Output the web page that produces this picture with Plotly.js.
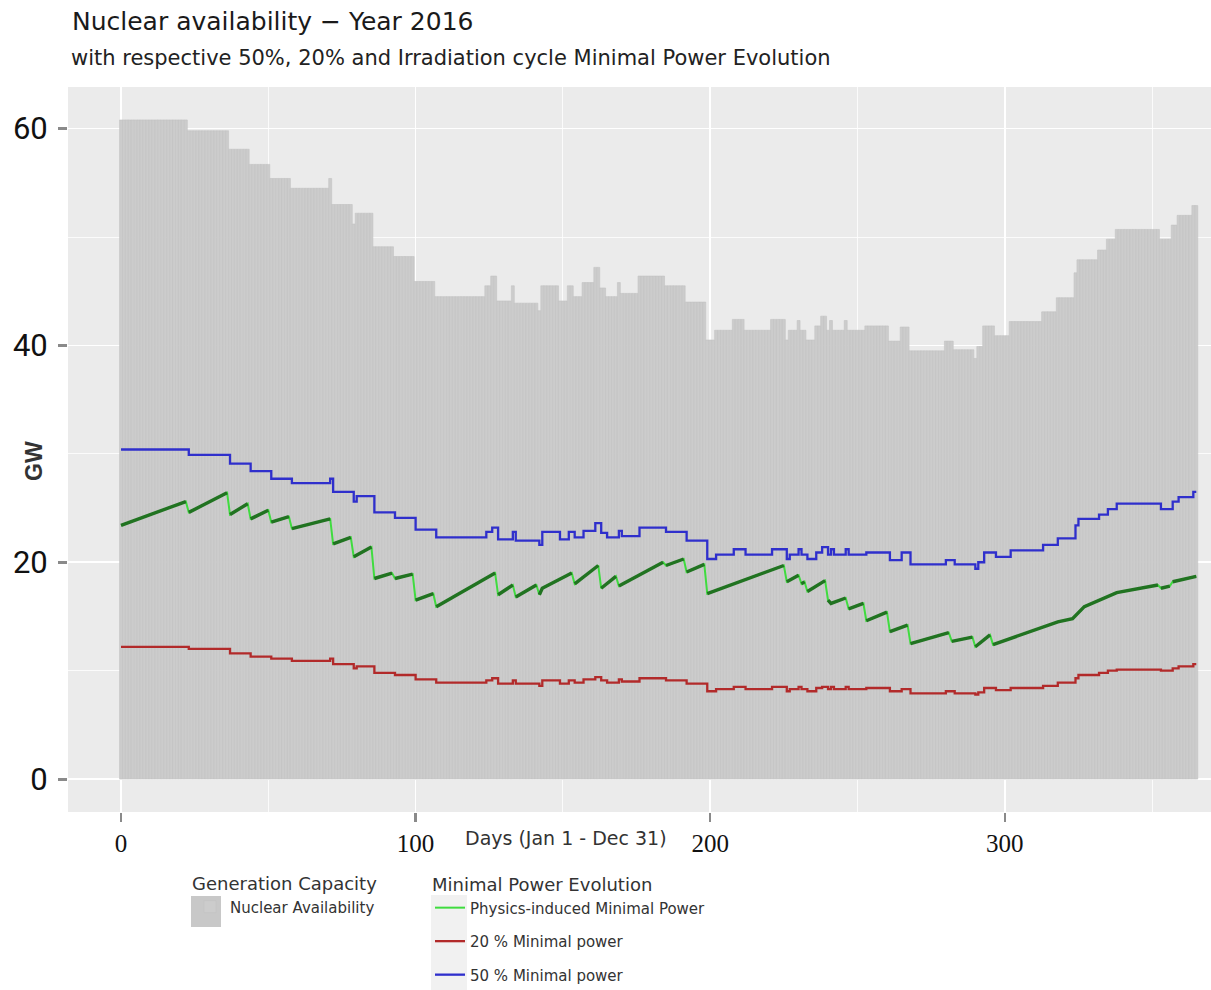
<!DOCTYPE html>
<html>
<head>
<meta charset="utf-8">
<script src="https://cdn.plot.ly/plotly-3.0.1.min.js"></script>
<style>html,body{margin:0;padding:0;background:#fff;}#chart{width:1211px;height:990px;}</style>
</head>
<body>
<div id="chart"></div>
<script>
// ---- Data ----
// Nuclear availability (GW): day on which each constant level starts, and its level
const stepDays = [0,23,37,44,51,58,71,72,79,80,
  86,93,100,107,124,126,128,133,134,142,
  143,149,152,154,157,161,163,165,169,170,
  176,185,192,199,202,208,212,221,226,227,
  230,231,233,236,238,240,241,242,246,247,
  253,261,265,268,280,283,290,291,293,297,
  302,313,318,324,325,332,335,338,353,357,
  359,364,365];
const availGW = [60.8,59.8,58.1,56.7,55.4,54.5,55.4,53.0,51.2,52.2,
  49.1,48.2,45.9,44.5,45.5,46.4,44.1,45.5,43.9,43.2,
  45.5,44.1,45.5,44.5,45.8,47.2,45.3,44.5,45.8,44.8,
  46.4,45.5,44.0,40.5,41.4,42.4,41.4,42.4,40.5,41.4,
  42.3,41.4,40.5,41.8,42.7,41.4,42.3,41.4,42.3,41.4,
  41.8,40.4,41.7,39.5,40.4,39.6,38.8,39.9,41.8,40.9,
  42.2,43.1,44.4,46.7,47.9,48.8,49.8,50.7,49.8,51.1,
  52.0,52.9,52.9];
// 50 % minimal power (GW), same change days
const blueGW = [30.4,29.9,29.1,28.4,27.7,27.3,27.7,26.5,25.6,26.1,
  24.6,24.1,23.0,22.3,22.8,23.2,22.1,22.8,22.0,21.6,
  22.8,22.1,22.8,22.3,22.9,23.6,22.7,22.3,22.9,22.4,
  23.2,22.8,22.0,20.3,20.7,21.2,20.7,21.2,20.3,20.7,
  21.2,20.7,20.3,20.9,21.4,20.7,21.2,20.7,21.2,20.7,
  20.9,20.2,20.9,19.8,20.2,19.8,19.4,20.0,20.9,20.5,
  21.1,21.6,22.2,23.4,24.0,24.4,24.9,25.4,24.9,25.6,
  26.0,26.5,26.5];
// 20 % minimal power (GW), same change days
const redGW = [12.2,12.0,11.6,11.3,11.1,10.9,11.1,10.6,10.2,10.4,
  9.8,9.6,9.2,8.9,9.1,9.3,8.8,9.1,8.8,8.6,
  9.1,8.8,9.1,8.9,9.2,9.4,9.1,8.9,9.2,9.0,
  9.3,9.1,8.8,8.1,8.3,8.5,8.3,8.5,8.1,8.3,
  8.5,8.3,8.1,8.4,8.5,8.3,8.5,8.3,8.5,8.3,
  8.4,8.1,8.3,7.9,8.1,7.9,7.8,8.0,8.4,8.2,
  8.4,8.6,8.9,9.3,9.6,9.8,10.0,10.1,10.0,10.2,
  10.4,10.6,10.6];
// Physics-induced minimal power: irradiation-cycle ramps (null = break between ramps)
const greenDay = [0,22,null, 23,36,null, 37,43,null, 44,50,null, 51,57,null, 58,71,null,
  72,78,null, 79,85,null, 86,92,null, 93,99,null, 100,106,null, 107,127,null,
  128,133,null, 134,141,null, 142,143,153,null, 154,162,null, 163,168,null,
  169,184,null, 185,191,null, 192,198,null, 199,225,null, 226,230,null, 231,232,null,
  233,239,null, 240,241,246,null, 247,252,null, 253,260,null, 261,267,null,
  268,281,null, 282,289,null, 290,295,null, 296,318,323,327,338,352,null,
  353,356,null, 357,365];
const greenGW = [23.4,25.6,null, 24.6,26.4,null, 24.4,25.4,null, 24.0,24.8,null, 23.7,24.2,null, 23.1,24.0,null,
  21.7,22.3,null, 20.5,21.4,null, 18.5,19.0,null, 18.5,18.9,null, 16.5,17.1,null, 15.9,19.0,null,
  17.0,17.9,null, 16.8,17.9,null, 17.0,17.6,19.0,null, 18.0,19.7,null, 17.6,18.7,null,
  17.8,20.0,null, 19.7,20.3,null, 19.1,19.8,null, 17.1,19.7,null, 18.2,18.8,null, 18.0,18.2,null,
  17.3,18.3,null, 16.5,16.2,16.7,null, 15.7,16.2,null, 14.6,15.4,null, 13.6,14.2,null,
  12.5,13.5,null, 12.7,13.1,null, 12.2,13.3,null, 12.4,14.5,14.8,15.9,17.2,17.9,null,
  17.6,17.8,null, 18.2,18.7];
const xTicks = [0,100,200,300];
const yTicks = [0,20,40,60];

// one bar per day of the year, at the level in force that day
const days = [], dayGW = [];
for (let d = 0; d <= 365; d++) {
  let k = 0;
  for (let i = 0; i < stepDays.length; i++) if (stepDays[i] <= d) k = i;
  days.push(d); dayGW.push(availGW[k]);
}

const W = 1211, H = 990, L = 68, R = 1211, T = 87, B = 812;
const px = v => (v - L) / (R - L);
const py = v => (B - v) / (B - T);

const traces = [
  {type:'bar', x:days, y:dayGW, name:'Nuclear Availability', legend:'legend',
   marker:{color:'#cccccc', line:{color:'#c2c2c2', width:0.6}}, hoverinfo:'skip'},
  {type:'scatter', mode:'lines', x:greenDay, y:greenGW, connectgaps:true,
   name:'Physics-induced Minimal Power', legend:'legend2', legendgroup:'g1',
   line:{color:'#3fdc3f', width:2}},
  {type:'scatter', mode:'lines', x:greenDay, y:greenGW, connectgaps:false,
   showlegend:false, legendgroup:'g1', line:{color:'#217321', width:3.4}},
  {type:'scatter', mode:'lines', x:stepDays, y:redGW, name:'20 % Minimal power',
   legend:'legend2', legendgroup:'g2', line:{color:'#b22a2a', width:2.3, shape:'hv'}},
  {type:'scatter', mode:'lines', x:stepDays, y:blueGW, name:'50 % Minimal power',
   legend:'legend2', legendgroup:'g3', line:{color:'#2f2fcc', width:2.3, shape:'hv'}}
];

const legendFont = {family:'DejaVu Sans', size:15, color:'#333'};
const legendTitleFont = {family:'DejaVu Sans', size:18, color:'#333'};

const layout = {
  width:W, height:H,
  margin:{l:L, r:W-R, t:T, b:H-B, pad:0, autoexpand:false},
  paper_bgcolor:'#ffffff', plot_bgcolor:'#ebebeb',
  bargap:0,
  title:{text:'Nuclear availability − Year 2016',
    font:{family:'DejaVu Sans', size:25, color:'#1a1a1a'},
    x:72/W, xanchor:'left', xref:'container', y:1-21/H, yanchor:'middle', yref:'container'},
  xaxis:{range:[-18,370], tickvals:xTicks, ticktext:xTicks.map(String), automargin:false,
    showgrid:true, gridcolor:'#ffffff', gridwidth:1.6,
    minor:{tickvals:[50,150,250,350], showgrid:true, gridcolor:'#ffffff', gridwidth:0.8},
    zeroline:false, showline:false, ticks:'outside', ticklen:9, tickwidth:2.5, tickcolor:'#8a8a8a',
    tickfont:{family:'Liberation Serif', size:25, color:'#111'}},
  yaxis:{range:[-3.04,63.84], tickvals:yTicks, ticktext:yTicks.map(String), automargin:false,
    showgrid:true, gridcolor:'#ffffff', gridwidth:1.6,
    minor:{tickvals:[10,30,50], showgrid:true, gridcolor:'#ffffff', gridwidth:0.8},
    zeroline:false, showline:false, ticks:'outside', ticklen:9, tickwidth:3, tickcolor:'#8a8a8a',
    ticklabelstandoff:4,
    tickfont:{family:'Liberation Sans Narrow, Roboto', size:31, color:'#111'}},
  showlegend:true,
  legend:{x:190/W, xref:'container', xanchor:'left', y:1-867/H, yref:'container', yanchor:'top',
    bgcolor:'rgba(0,0,0,0)', font:legendFont,
    title:{text:'Generation Capacity', font:legendTitleFont, side:'top'}},
  legend2:{x:430/W, xref:'container', xanchor:'left', y:1-868/H, yref:'container', yanchor:'top',
    bgcolor:'rgba(0,0,0,0)', font:legendFont, traceorder:'grouped', tracegroupgap:11,
    title:{text:'Minimal Power Evolution', font:legendTitleFont, side:'top'}},
  shapes:[
    {type:'rect', xref:'paper', yref:'paper', x0:px(191), x1:px(221), y0:py(927), y1:py(896),
     fillcolor:'#c8c8c8', line:{width:0}, layer:'below'},
    {type:'rect', xref:'paper', yref:'paper', x0:px(431), x1:px(467), y0:py(993), y1:py(895),
     fillcolor:'#f1f1f1', line:{width:0}, layer:'below'}
  ],
  annotations:[
    {text:'with respective 50%, 20% and Irradiation cycle Minimal Power Evolution',
     xref:'paper', yref:'paper', x:px(69), y:py(58), xanchor:'left', yanchor:'middle', showarrow:false,
     font:{family:'DejaVu Sans', size:21, color:'#222'}},
    {text:'Days (Jan 1 - Dec 31)', xref:'paper', yref:'paper', x:px(566), y:py(838),
     xanchor:'center', yanchor:'middle', showarrow:false,
     font:{family:'DejaVu Sans', size:19, color:'#333'}},
    {text:'GW', xref:'paper', yref:'paper', x:px(34), y:py(461), textangle:-90,
     xanchor:'center', yanchor:'middle', showarrow:false,
     font:{family:'Liberation Sans', size:23, color:'#333', weight:700}}
  ]
};

Plotly.newPlot('chart', traces, layout, {staticPlot:true, displayModeBar:false});
</script>
</body>
</html>
